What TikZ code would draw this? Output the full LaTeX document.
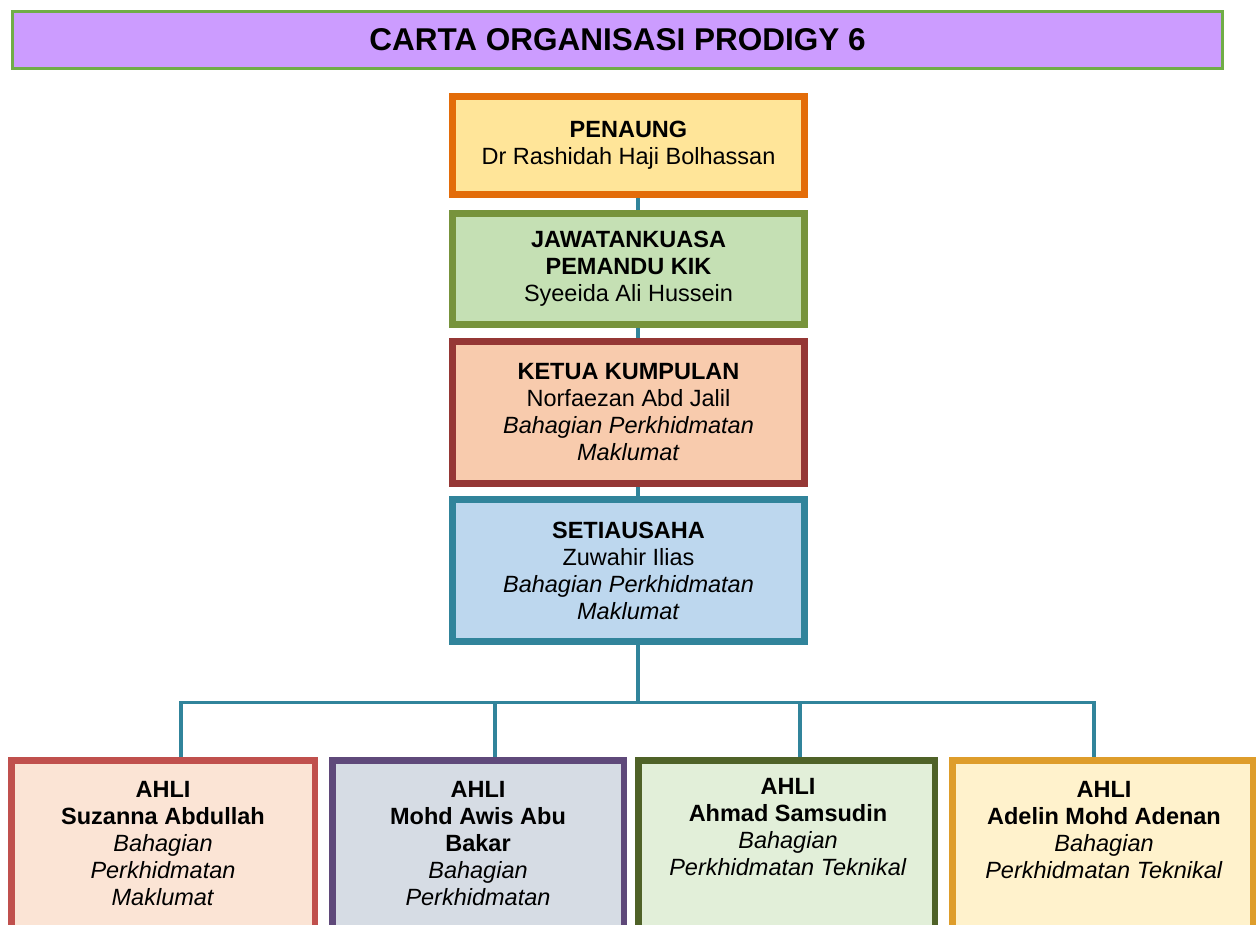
\documentclass[tikz,border=0pt]{standalone}
\usepackage{fontspec}
\setmainfont{Liberation Sans}
\usetikzlibrary{backgrounds}
\definecolor{titlefill}{HTML}{CC9CFF}
\definecolor{titledraw}{HTML}{70AD47}
\definecolor{penfill}{HTML}{FFE599}
\definecolor{pendraw}{HTML}{E36C09}
\definecolor{jawfill}{HTML}{C5E0B4}
\definecolor{jawdraw}{HTML}{77933C}
\definecolor{ketfill}{HTML}{F8CBAD}
\definecolor{ketdraw}{HTML}{953735}
\definecolor{setfill}{HTML}{BDD7EE}
\definecolor{setdraw}{HTML}{31849B}
\definecolor{afill}{HTML}{FBE4D5}
\definecolor{adraw}{HTML}{C0504D}
\definecolor{bfill}{HTML}{D6DCE4}
\definecolor{bdraw}{HTML}{5F497A}
\definecolor{cfill}{HTML}{E2EFD9}
\definecolor{cdraw}{HTML}{4F6228}
\definecolor{dfill}{HTML}{FFF2CC}
\definecolor{ddraw}{HTML}{DE9D2B}
\definecolor{linkcol}{HTML}{31849B}
\tikzset{
  topbox/.style={draw, rectangle, line width=7pt, inner sep=0pt, align=center,
    minimum width=352pt, font=\fontsize{23.5}{27}\selectfont},
  botbox/.style={draw, rectangle, line width=6.5pt, inner sep=0pt,
    minimum height=200pt},
  bottext/.style={anchor=north, inner sep=0pt, align=center,
    font=\fontsize{23.5}{27}\selectfont},
  link/.style={draw=linkcol, line width=3.5pt}
}
\begin{document}
\begin{tikzpicture}[x=1pt,y=-1pt]
\useasboundingbox (0,0) rectangle (1256,924);
\clip (0,0) rectangle (1256,924);
% title
\node[draw=titledraw, fill=titlefill, line width=3pt, minimum width=1210pt,
  minimum height=57pt, inner sep=0pt, font=\fontsize{31.5}{36}\selectfont\bfseries]
  (title) at (617.5,40) {CARTA ORGANISASI PRODIGY 6};
% main chain
\node[topbox, draw=pendraw, fill=penfill, minimum height=98pt] (pen) at (628.5,145.5)
  {\textbf{PENAUNG}\\Dr Rashidah Haji Bolhassan};
\node[topbox, draw=jawdraw, fill=jawfill, minimum height=111pt] (jaw) at (628.5,269)
  {\textbf{JAWATANKUASA}\\\textbf{PEMANDU KIK}\\Syeeida Ali Hussein};
\node[topbox, draw=ketdraw, fill=ketfill, minimum height=142pt] (ket) at (628.5,412.5)
  {\textbf{KETUA KUMPULAN}\\Norfaezan Abd Jalil\\\textit{Bahagian Perkhidmatan}\\\textit{Maklumat}};
\node[topbox, draw=setdraw, fill=setfill, minimum height=142pt] (set) at (628.5,570.5)
  {\textbf{SETIAUSAHA}\\Zuwahir Ilias\\\textit{Bahagian Perkhidmatan}\\\textit{Maklumat}};
% members
\node[botbox, draw=adraw, fill=afill, minimum width=303.5pt] (b1) at (163,860.25) {};
\node[botbox, draw=bdraw, fill=bfill, minimum width=291.5pt] (b2) at (478,860.25) {};
\node[botbox, draw=cdraw, fill=cfill, minimum width=296.5pt] (b3) at (786.5,860.25) {};
\node[botbox, draw=ddraw, fill=dfill, minimum width=300.5pt] (b4) at (1102.5,860.25) {};
\node[bottext] (t1) at (163,781)
  {\textbf{AHLI}\\\textbf{Suzanna Abdullah}\\\textit{Bahagian}\\\textit{Perkhidmatan}\\\textit{Maklumat}};
\node[bottext] (t2) at (478,781)
  {\textbf{AHLI}\\\textbf{Mohd Awis Abu}\\\textbf{Bakar}\\\textit{Bahagian}\\\textit{Perkhidmatan}};
\node[bottext] (t3) at (788,778)
  {\textbf{AHLI}\\\textbf{Ahmad Samsudin}\\\textit{Bahagian}\\\textit{Perkhidmatan Teknikal}};
\node[bottext] (t4) at (1104,781)
  {\textbf{AHLI}\\\textbf{Adelin Mohd Adenan}\\\textit{Bahagian}\\\textit{Perkhidmatan Teknikal}};
% connectors
\begin{scope}[on background layer]
\draw[link] ([xshift=9.5pt]pen.south) -- ([xshift=9.5pt]jaw.north);
\draw[link] ([xshift=9.5pt]jaw.south) -- ([xshift=9.5pt]ket.north);
\draw[link] ([xshift=9.5pt]ket.south) -- ([xshift=9.5pt]set.south |- set.north);
\draw[link] ([xshift=9.5pt]set.south) -- ++(0,57.5) coordinate (bar);
\draw[link] (bar) -| ([xshift=18pt]b1.north);
\draw[link] (bar) -| ([xshift=17pt]b2.north);
\draw[link] (bar) -| ([xshift=13.5pt]b3.north);
\draw[link] (bar) -| ([xshift=-8.5pt]b4.north);
\end{scope}
\end{tikzpicture}
\end{document}
